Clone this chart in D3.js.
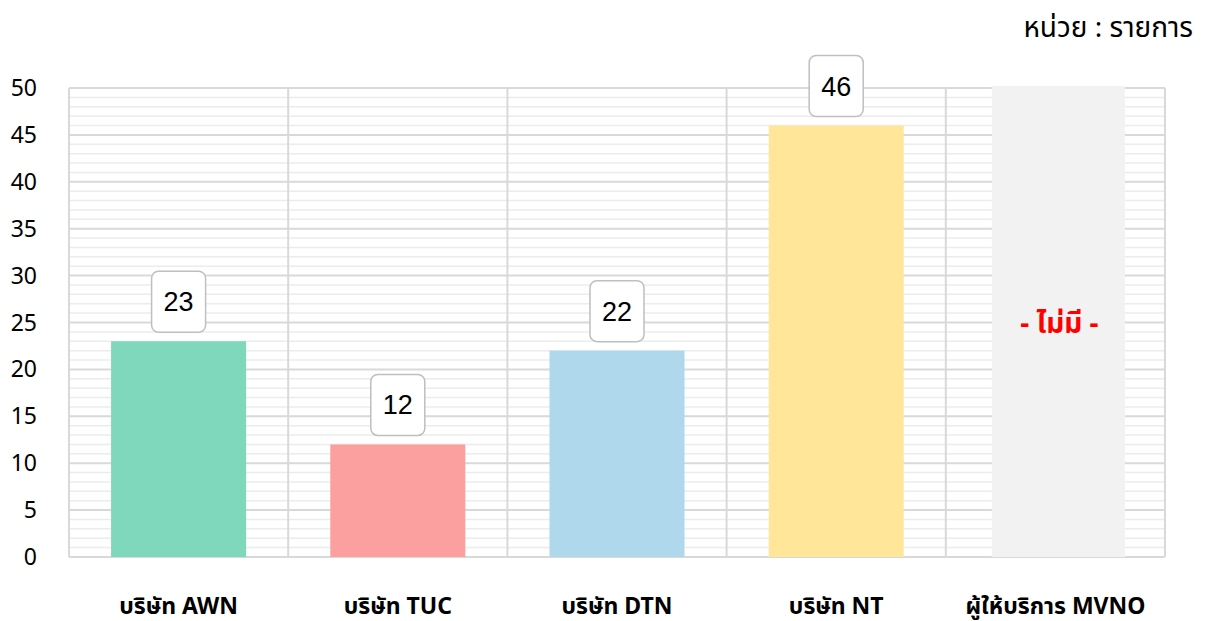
<!DOCTYPE html>
<html>
<head>
<meta charset="utf-8">
<script src="https://cdn.jsdelivr.net/npm/d3@7"></script>
<style>
  body { margin: 0; background: #fff; }
  svg text { font-family: "Noto Sans", "Noto Sans Thai", Tahoma, sans-serif; }
</style>
</head>
<body>
<svg id="chart" width="1205" height="621"></svg>
<script>
// data
var categories = ["บริษัท AWN", "บริษัท TUC", "บริษัท DTN", "บริษัท NT", "ผู้ให้บริการ MVNO"];
var values = [23, 12, 22, 46, null];
var barColors = ["#7fd8bb", "#fba09f", "#afd8ed", "#ffe699", "#f2f2f2"];
var yTicks = [0, 5, 10, 15, 20, 25, 30, 35, 40, 45, 50];
var unitLabel = "หน่วย : รายการ";
var noDataLabel = "- ไม่มี -";

var margin = {top: 88, right: 40, bottom: 64, left: 69},
    width = 1165 - margin.left,
    height = 557 - margin.top;

var svg = d3.select("#chart")
    .append("g")
    .attr("transform", "translate(" + margin.left + "," + margin.top + ")");

var x = d3.scaleBand()
    .domain(categories)
    .range([0, width])
    .paddingInner(0)
    .paddingOuter(0);

var y = d3.scaleLinear()
    .domain([0, 50])
    .range([height, 0]);

var barW = x.bandwidth() * 0.616;

// minor grid
svg.selectAll(".minor")
    .data(d3.range(1, 50).filter(function(d) { return d % 5 !== 0; }))
    .enter()
    .append("line")
    .attr("class", "minor")
    .attr("x1", 0)
    .attr("x2", width)
    .attr("y1", function(d) { return y(d); })
    .attr("y2", function(d) { return y(d); })
    .attr("stroke", "#ececec")
    .attr("stroke-width", 1.5);

// major grid
svg.selectAll(".major")
    .data(yTicks)
    .enter()
    .append("line")
    .attr("class", "major")
    .attr("x1", 0)
    .attr("x2", width)
    .attr("y1", function(d) { return y(d); })
    .attr("y2", function(d) { return y(d); })
    .attr("stroke", "#d9d9d9")
    .attr("stroke-width", 2);

// vertical separators
svg.selectAll(".vline")
    .data(categories.concat(["end"]))
    .enter()
    .append("line")
    .attr("class", "vline")
    .attr("x1", function(d, i) { return i * x.bandwidth(); })
    .attr("x2", function(d, i) { return i * x.bandwidth(); })
    .attr("y1", 0)
    .attr("y2", height)
    .attr("stroke", "#d9d9d9")
    .attr("stroke-width", 2);

// bars (the empty MVNO one is a full-height gray placeholder, a bit off-centre)
svg.selectAll(".bar")
    .data(categories)
    .enter()
    .append("rect")
    .attr("class", "bar")
    .attr("x", function(d, i) {
        var off = values[i] === null ? 4 : 0;
        return x(d) + (x.bandwidth() - barW) / 2 + off;
    })
    .attr("width", function(d, i) { return values[i] === null ? barW - 2 : barW; })
    .attr("y", function(d, i) { return values[i] === null ? y(50) - 2 : y(values[i]); })
    .attr("height", function(d, i) { return values[i] === null ? height + 2 : height - y(values[i]); })
    .attr("fill", function(d, i) { return barColors[i]; });

// value boxes
var boxes = svg.selectAll(".vbox")
    .data(categories.filter(function(d, i) { return values[i] !== null; }))
    .enter()
    .append("g")
    .attr("class", "vbox")
    .attr("transform", function(d) {
        var v = values[categories.indexOf(d)];
        return "translate(" + (x(d) + x.bandwidth() / 2) + "," + (y(v) - 9) + ")";
    });

boxes.append("rect")
    .attr("x", -27)
    .attr("y", -61)
    .attr("width", 54)
    .attr("height", 61)
    .attr("rx", 7)
    .attr("fill", "#fff")
    .attr("stroke", "#bfbfbf")
    .attr("stroke-width", 1.5);

boxes.append("text")
    .attr("x", 0)
    .attr("y", -21)
    .attr("text-anchor", "middle")
    .style("font-family", "'Liberation Sans', Arial, sans-serif")
    .style("font-size", "27px")
    .attr("fill", "#000")
    .text(function(d) { return values[categories.indexOf(d)]; });

// no data label
svg.append("text")
    .attr("x", x(categories[4]) + x.bandwidth() / 2 + 4)
    .attr("y", y(25) + 10)
    .attr("text-anchor", "middle")
    .style("font-size", "28px")
    .style("font-weight", "bold")
    .attr("fill", "#ff0000")
    .text(noDataLabel);

// y axis labels
svg.selectAll(".ytick")
    .data(yTicks)
    .enter()
    .append("text")
    .attr("class", "ytick")
    .attr("x", -32)
    .attr("y", function(d) { return y(d) + 8; })
    .attr("text-anchor", "end")
    .style("font-size", "23px")
    .attr("fill", "#000")
    .text(function(d) { return d; });

// x labels
svg.selectAll(".xlabel")
    .data(categories)
    .enter()
    .append("text")
    .attr("class", "xlabel")
    .attr("x", function(d) { return x(d) + x.bandwidth() / 2; })
    .attr("y", height + 57)
    .attr("text-anchor", "middle")
    .style("font-size", "23px")
    .style("font-weight", "bold")
    .attr("fill", "#000")
    .text(function(d) { return d; });

// unit
d3.select("#chart").append("text")
    .attr("x", 1193)
    .attr("y", 37)
    .attr("text-anchor", "end")
    .style("font-size", "28px")
    .attr("fill", "#000")
    .text(unitLabel);
</script>
</body>
</html>
